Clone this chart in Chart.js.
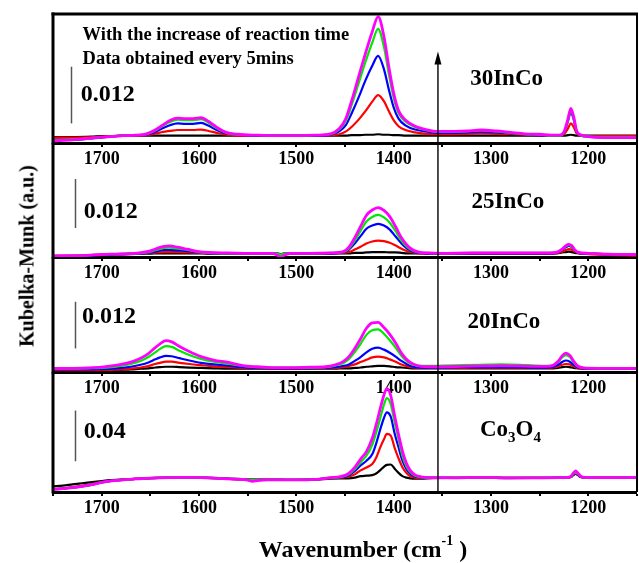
<!DOCTYPE html>
<html>
<head>
<meta charset="utf-8">
<script src="https://cdn.jsdelivr.net/npm/chart.js@4.4.1/dist/chart.umd.min.js"></script>
<style>
  html, body { margin: 0; padding: 0; background: #fff; }
  #wrap { position: relative; width: 639px; height: 563px; overflow: hidden; background: #fff; }
  #wrap canvas { position: absolute; left: 0; top: 0; }
  .axtitle { position: absolute; font-family: "Liberation Serif", "Times New Roman", serif; font-weight: bold; color: #000; white-space: nowrap; }
  #ytitle { left: 27px; top: 256px; font-size: 20px; transform: translate(-50%, -50%) rotate(-90deg); }
  #xtitle { left: 363px; top: 549px; font-size: 24px; transform: translate(-50%, -50%); }
  #xtitle sup { font-size: 14px; position: relative; top: -3px; vertical-align: top; }
</style>
</head>
<body>
<div id="wrap">
  <canvas id="p1" width="639" height="563"></canvas>
  <canvas id="p2" width="639" height="563"></canvas>
  <canvas id="p3" width="639" height="563"></canvas>
  <canvas id="p4" width="639" height="563"></canvas>
  <div id="ytitle" class="axtitle">Kubelka-Munk (a.u.)</div>
  <div id="xtitle" class="axtitle">Wavenumber (cm<sup>-1</sup> )</div>
</div>
<script>
const SERIF = '"Liberation Serif", "Times New Roman", serif';

// Spectra in units of 1e-3 Kubelka-Munk; five spectra per sample, taken every 5 min
// (black = first, then red, blue, green, magenta = last).

// ---- 30InCo ----
const wn30 = [1750, 1730, 1710, 1700, 1690, 1678, 1665, 1654, 1645, 1637,
  1630, 1622, 1614, 1606, 1598, 1590, 1582, 1572, 1560, 1540,
  1520, 1500, 1480, 1465, 1456, 1449, 1443, 1436, 1429, 1422,
  1416, 1410, 1405, 1400, 1395, 1388, 1378, 1367, 1354, 1340,
  1325, 1310, 1295, 1280, 1265, 1250, 1238, 1230, 1225, 1221,
  1218, 1215, 1212, 1208, 1200, 1185, 1170, 1150];
const km30Black = [-0.3, -0.3, -0.2, -0.1, -0.1, 0.0, 0.0, 0.0, 0.0, 0.0,
  0.0, 0.0, 0.0, 0.0, 0.0, 0.0, 0.0, 0.0, 0.0, 0.0,
  0.0, 0.0, 0.0, 0.0, 0.0, 0.0, 0.1, 0.1, 0.2, 0.2,
  0.3, 0.2, 0.2, 0.1, 0.1, 0.0, 0.0, 0.0, 0.0, 0.0,
  0.0, 0.0, 0.0, 0.0, 0.0, 0.0, 0.0, 0.0, 0.0, 0.1,
  0.2, 0.1, 0.0, 0.0, 0.0, 0.0, 0.0, 0.0];
const km30Red = [-0.4, -0.4, -0.3, -0.2, -0.1, 0.0, 0.0, 0.1, 0.4, 0.8,
  1.0, 1.2, 1.2, 1.2, 1.3, 1.0, 0.6, 0.2, 0.0, 0.0,
  0.0, 0.0, 0.0, 0.1, 0.3, 0.9, 1.9, 3.4, 5.2, 7.2,
  8.6, 7.3, 5.2, 3.3, 2.0, 1.2, 0.7, 0.4, 0.3, 0.3,
  0.4, 0.5, 0.4, 0.3, 0.2, 0.1, 0.0, 0.0, 0.3, 1.5,
  2.6, 1.8, 0.5, 0.0, -0.1, -0.1, -0.1, -0.1];
const km30Blue = [-0.9, -0.9, -0.6, -0.4, -0.2, 0.0, 0.1, 0.2, 0.8, 1.6,
  2.2, 2.6, 2.5, 2.5, 2.7, 2.1, 1.2, 0.5, 0.2, 0.0,
  0.0, 0.0, 0.0, 0.2, 0.9, 2.3, 4.8, 8.1, 11.7, 14.8,
  16.9, 14.1, 9.8, 6.0, 3.6, 2.2, 1.3, 0.9, 0.6, 0.6,
  0.7, 0.8, 0.7, 0.5, 0.3, 0.1, 0.0, 0.0, 0.6, 3.0,
  5.0, 3.4, 0.8, 0.1, -0.2, -0.3, -0.3, -0.3];
const km30Green = [-1.0, -0.8, -0.5, -0.3, -0.2, 0.0, 0.1, 0.3, 1.1, 2.1,
  2.9, 3.4, 3.3, 3.3, 3.5, 2.7, 1.6, 0.6, 0.2, 0.1,
  0.0, 0.0, 0.1, 0.3, 1.3, 3.2, 6.6, 11.1, 15.6, 19.7,
  22.6, 18.8, 13.1, 8.0, 4.8, 3.0, 1.8, 1.2, 0.8, 0.8,
  0.9, 1.1, 0.9, 0.6, 0.3, 0.2, 0.0, 0.0, 0.7, 3.2,
  5.4, 3.7, 0.9, 0.1, -0.2, -0.3, -0.3, -0.3];
const km30Magenta = [-1.1, -0.9, -0.5, -0.3, -0.2, 0.0, 0.1, 0.4, 1.2, 2.3,
  3.2, 3.7, 3.6, 3.6, 3.8, 3.0, 1.8, 0.7, 0.3, 0.1,
  0.0, 0.0, 0.1, 0.4, 1.5, 3.7, 7.5, 12.5, 17.4, 22.0,
  25.2, 21.0, 14.6, 9.0, 5.3, 3.3, 2.0, 1.3, 0.9, 0.9,
  1.0, 1.2, 1.0, 0.7, 0.4, 0.3, 0.1, 0.1, 0.8, 3.5,
  5.8, 4.0, 1.0, 0.2, -0.2, -0.4, -0.4, -0.4];

// ---- 25InCo ----
const wn25 = [1750, 1730, 1715, 1700, 1685, 1670, 1658, 1650, 1643, 1636,
  1630, 1622, 1612, 1600, 1590, 1570, 1545, 1525, 1520, 1516,
  1512, 1505, 1485, 1465, 1452, 1446, 1440, 1434, 1428, 1422,
  1416, 1410, 1404, 1398, 1392, 1386, 1380, 1374, 1365, 1350,
  1320, 1290, 1260, 1240, 1232, 1227, 1223, 1220, 1217, 1214,
  1210, 1200, 1180, 1150];
const km25Black = [-0.6, -0.6, -0.5, -0.4, -0.3, -0.2, -0.1, -0.1, 0.0, 0.0,
  0.0, 0.0, 0.0, 0.0, -0.1, -0.1, -0.1, -0.1, -0.1, -0.2,
  -0.1, -0.1, -0.1, -0.1, 0.0, 0.0, 0.1, 0.1, 0.2, 0.3,
  0.3, 0.3, 0.2, 0.2, 0.1, 0.0, 0.0, 0.0, -0.1, -0.1,
  -0.1, -0.1, -0.1, -0.1, 0.0, 0.2, 0.3, 0.4, 0.3, 0.1,
  0.0, -0.1, -0.2, -0.3];
const km25Red = [-0.6, -0.6, -0.5, -0.3, -0.2, -0.1, 0.0, 0.1, 0.2, 0.3,
  0.3, 0.3, 0.2, 0.1, 0.0, 0.0, -0.1, -0.1, -0.1, -0.2,
  -0.1, -0.1, -0.1, 0.0, 0.1, 0.3, 0.9, 1.6, 2.4, 2.9,
  3.1, 3.0, 2.6, 1.9, 1.1, 0.5, 0.2, 0.0, 0.0, -0.1,
  -0.1, -0.1, -0.1, -0.1, 0.1, 0.4, 0.8, 1.0, 0.9, 0.4,
  0.0, -0.2, -0.4, -0.6];
const km25Blue = [-0.8, -0.7, -0.6, -0.4, -0.3, -0.1, 0.0, 0.2, 0.5, 0.8,
  0.8, 0.7, 0.5, 0.2, 0.0, 0.0, 0.0, 0.0, -0.1, -0.2,
  -0.1, 0.0, 0.0, 0.0, 0.2, 0.9, 2.4, 4.2, 6.0, 6.8,
  7.2, 6.8, 5.8, 4.1, 2.4, 1.1, 0.4, 0.1, 0.0, 0.0,
  0.0, 0.0, 0.0, 0.0, 0.2, 0.8, 1.5, 1.8, 1.5, 0.7,
  0.1, -0.1, -0.2, -0.3];
const km25Green = [-0.7, -0.6, -0.5, -0.3, -0.2, -0.1, 0.1, 0.4, 0.9, 1.3,
  1.4, 1.2, 0.8, 0.3, 0.1, 0.0, 0.0, 0.0, -0.1, -0.3,
  -0.1, 0.0, 0.0, 0.1, 0.3, 1.2, 3.1, 5.5, 7.8, 8.9,
  9.4, 8.8, 7.5, 5.4, 3.1, 1.5, 0.6, 0.2, 0.1, 0.0,
  0.1, 0.1, 0.1, 0.1, 0.3, 0.9, 1.7, 2.0, 1.7, 0.8,
  0.2, 0.0, -0.2, -0.3];
const km25Magenta = [-0.7, -0.6, -0.5, -0.3, -0.2, -0.1, 0.2, 0.6, 1.2, 1.7,
  1.8, 1.5, 1.0, 0.4, 0.2, 0.1, 0.0, 0.0, -0.4, -1.0,
  -0.4, 0.0, 0.0, 0.1, 0.4, 1.5, 3.8, 6.6, 9.3, 10.6,
  11.2, 10.5, 9.0, 6.5, 3.8, 1.9, 0.8, 0.3, 0.1, 0.0,
  0.1, 0.1, 0.1, 0.1, 0.3, 1.0, 1.9, 2.2, 1.9, 0.9,
  0.2, 0.0, -0.2, -0.3];

// ---- 20InCo ----
const wn20 = [1750, 1730, 1715, 1700, 1690, 1680, 1670, 1660, 1652, 1645,
  1640, 1634, 1628, 1620, 1610, 1598, 1585, 1570, 1555, 1540,
  1525, 1505, 1485, 1470, 1460, 1452, 1446, 1440, 1434, 1428,
  1422, 1416, 1410, 1404, 1398, 1392, 1386, 1380, 1372, 1362,
  1350, 1330, 1310, 1290, 1270, 1255, 1243, 1236, 1231, 1227,
  1223, 1219, 1215, 1211, 1205, 1190, 1170, 1150];
const km20Black = [-0.6, -0.6, -0.6, -0.6, -0.5, -0.4, -0.3, -0.1, 0.0, 0.2,
  0.3, 0.4, 0.4, 0.3, 0.2, 0.1, 0.0, -0.1, -0.1, -0.1,
  -0.1, -0.1, -0.1, -0.1, -0.1, 0.0, 0.0, 0.1, 0.2, 0.4,
  0.5, 0.6, 0.6, 0.5, 0.3, 0.2, 0.1, 0.0, 0.0, 0.0,
  0.0, 0.0, 0.0, 0.0, 0.0, 0.0, 0.0, 0.0, 0.1, 0.3,
  0.4, 0.3, 0.1, 0.0, -0.1, -0.1, -0.1, -0.1];
const km20Red = [-0.5, -0.5, -0.5, -0.5, -0.4, -0.3, -0.1, 0.2, 0.6, 1.1,
  1.4, 1.7, 1.7, 1.4, 1.1, 0.8, 0.5, 0.3, 0.1, 0.0,
  -0.1, -0.1, -0.1, 0.0, 0.1, 0.3, 0.6, 1.0, 1.6, 2.2,
  2.8, 3.0, 2.8, 2.3, 1.7, 1.0, 0.5, 0.2, 0.1, 0.1,
  0.1, 0.1, 0.2, 0.2, 0.2, 0.1, 0.1, 0.2, 0.5, 0.9,
  1.1, 1.0, 0.5, 0.1, -0.1, -0.1, -0.1, -0.1];
const km20Blue = [-0.3, -0.3, -0.3, -0.2, -0.1, 0.1, 0.4, 0.9, 1.5, 2.3,
  2.8, 3.2, 3.1, 2.6, 2.0, 1.4, 1.0, 0.7, 0.3, 0.1,
  0.0, 0.0, 0.0, 0.1, 0.3, 0.6, 1.0, 1.9, 2.9, 4.1,
  5.0, 5.3, 4.8, 4.0, 3.0, 1.9, 1.0, 0.4, 0.2, 0.2,
  0.2, 0.3, 0.3, 0.3, 0.3, 0.2, 0.2, 0.4, 0.9, 1.6,
  2.0, 1.7, 0.9, 0.3, 0.0, -0.1, -0.1, -0.1];
const km20Green = [-0.1, -0.1, 0.0, 0.1, 0.3, 0.6, 1.1, 1.9, 2.9, 4.1,
  5.0, 5.7, 5.5, 4.5, 3.4, 2.4, 1.7, 1.2, 0.6, 0.3,
  0.2, 0.2, 0.2, 0.3, 0.7, 1.3, 2.4, 4.2, 6.3, 8.6,
  9.8, 10.0, 8.9, 7.2, 5.3, 3.2, 1.7, 0.9, 0.6, 0.6,
  0.7, 0.8, 0.9, 1.0, 0.9, 0.7, 0.6, 0.8, 1.6, 2.8,
  3.4, 2.9, 1.5, 0.5, 0.1, 0.0, 0.0, 0.0];
const km20Magenta = [0.0, 0.0, 0.1, 0.3, 0.6, 1.0, 1.6, 2.6, 3.8, 5.3,
  6.3, 7.1, 6.8, 5.6, 4.3, 3.0, 2.1, 1.5, 0.7, 0.4,
  0.2, 0.2, 0.3, 0.4, 0.9, 1.7, 3.0, 5.1, 7.6, 10.3,
  11.7, 11.8, 10.5, 8.7, 6.5, 3.9, 2.1, 1.1, 0.5, 0.4,
  0.4, 0.5, 0.6, 0.7, 0.6, 0.5, 0.5, 0.8, 1.8, 3.2,
  3.9, 3.3, 1.8, 0.6, 0.1, 0.0, 0.0, 0.0];

// ---- Co3O4 ----
const wnCo = [1750, 1740, 1730, 1720, 1710, 1700, 1690, 1678, 1665, 1650,
  1630, 1610, 1598, 1580, 1560, 1550, 1545, 1540, 1530, 1515,
  1500, 1480, 1465, 1455, 1447, 1440, 1434, 1428, 1422, 1418,
  1414, 1410, 1407, 1403, 1399, 1395, 1391, 1387, 1383, 1378,
  1372, 1360, 1340, 1310, 1280, 1250, 1230, 1222, 1218, 1215,
  1213, 1211, 1208, 1203, 1190, 1170, 1150];
const kmCoBlack = [-6.3, -5.8, -4.8, -3.9, -3.0, -2.2, -1.5, -0.9, -0.4, 0.2,
  0.6, 0.7, 0.6, 0.2, -0.5, -0.8, -1.0, -1.0, -1.0, -1.1,
  -1.2, -0.9, -0.3, -0.1, 0.0, 0.6, 1.7, 2.1, 2.5, 3.8,
  6.3, 9.1, 10.6, 10.9, 7.6, 4.3, 1.7, 0.5, 0.0, -0.2,
  -0.2, 0.2, 0.3, 0.5, 0.2, 0.3, 0.4, 0.5, 1.0, 2.8,
  3.4, 2.7, 1.0, 0.5, 0.4, 0.5, 0.6];
const kmCoRed = [-8.4, -8.0, -7.0, -5.8, -4.5, -3.0, -1.9, -1.1, -0.5, 0.2,
  0.6, 0.7, 0.6, 0.0, -0.8, -1.0, -1.2, -1.2, -1.2, -1.2,
  -1.3, -0.8, 0.2, 0.5, 1.2, 3.1, 6.3, 8.6, 11.3, 16.3,
  24.0, 30.8, 35.0, 33.7, 24.0, 15.8, 8.8, 4.4, 1.7, 0.6,
  0.3, 0.4, 0.4, 0.7, 0.3, 0.4, 0.5, 0.6, 1.1, 3.0,
  3.6, 2.9, 1.1, 0.6, 0.5, 0.6, 0.7];
const kmCoBlue = [-8.6, -8.2, -7.4, -6.3, -5.0, -3.2, -2.0, -1.2, -0.5, 0.2,
  0.6, 0.7, 0.6, 0.0, -0.8, -1.0, -1.2, -1.2, -1.2, -1.2,
  -1.3, -0.8, 0.3, 0.8, 2.1, 5.6, 10.1, 13.9, 18.9, 27.4,
  38.0, 47.6, 52.0, 48.6, 35.4, 24.5, 13.9, 7.5, 3.7, 1.5,
  0.8, 0.5, 0.4, 0.7, 0.3, 0.4, 0.5, 0.6, 1.2, 3.3,
  4.0, 3.2, 1.2, 0.6, 0.5, 0.6, 0.7];
const kmCoGreen = [-8.6, -8.2, -7.4, -6.3, -5.0, -3.2, -2.0, -1.2, -0.5, 0.2,
  0.6, 0.7, 0.6, 0.0, -0.8, -1.0, -1.2, -1.2, -1.2, -1.2,
  -1.3, -0.8, 0.4, 1.0, 2.7, 7.2, 12.7, 17.8, 26.5, 36.0,
  46.8, 58.1, 63.3, 58.6, 44.2, 30.8, 17.7, 9.6, 5.0, 2.1,
  1.0, 0.5, 0.4, 0.8, 0.3, 0.4, 0.5, 0.6, 1.3, 3.8,
  4.5, 3.6, 1.4, 0.6, 0.5, 0.6, 0.7];
const kmCoMagenta = [-8.6, -8.2, -7.4, -6.3, -5.0, -3.2, -2.0, -1.2, -0.5, 0.2,
  0.6, 0.7, 0.6, 0.0, -0.8, -1.5, -2.4, -1.8, -1.2, -1.2,
  -1.3, -0.8, 0.5, 1.3, 3.4, 8.6, 15.2, 21.1, 31.6, 42.3,
  54.4, 65.8, 70.8, 65.3, 49.3, 34.6, 21.5, 12.0, 6.3, 2.7,
  1.2, 0.5, 0.4, 0.8, 0.3, 0.4, 0.5, 0.7, 1.6, 4.5,
  5.8, 4.5, 1.8, 0.7, 0.5, 0.6, 0.7];

// Scale-bar values (Kubelka-Munk units) and x-axis tick step
const scaleBarValues = [0.012, 0.012, 0.012, 0.04];
const sampleNames = ['30InCo', '25InCo', '20InCo', 'Co3O4'];
const noteLines = ['With the increase of reaction time', 'Data obtained every 5mins'];
const tickStep = 50;
const arrowWavenumber = 1354.5;

const lineColors = ['#000000', '#ff0000', '#0000ff', '#00e800', '#ff00ff'];
const lineWidths = [2.2, 2.2, 2.2, 2.2, 2.8];

// Panel layout and annotation placement
const panels = [
  { id: 'p1', wn: wn30, series: [km30Black, km30Red, km30Blue, km30Green, km30Magenta],
    top: 14, bottom: 143, yMin: -1.55, yMax: 25.76, topBorder: true,
    barX: 1731.6, barFrom: 2.6, textX: 1721.6, textY: 8.6,
    nameX: 1284, nameY: 12.0, arrowTop: 17.8, notes: { x: 1719.6, y: [21.3, 16.2] } },
  { id: 'p2', wn: wn25, series: [km25Black, km25Red, km25Blue, km25Green, km25Magenta],
    top: 143, bottom: 257, yMin: -0.91, yMax: 27.03,
    barX: 1726.9, barFrom: 6.2, textX: 1718.3, textY: 10.1,
    nameX: 1282.6, nameY: 12.6 },
  { id: 'p3', wn: wn20, series: [km20Black, km20Red, km20Blue, km20Green, km20Magenta],
    top: 257, bottom: 372, yMin: -0.95, yMax: 28.61,
    barX: 1726.9, barFrom: 5.1, textX: 1720.3, textY: 13.3,
    nameX: 1286.7, nameY: 12.0 },
  { id: 'p4', wn: wnCo, series: [kmCoBlack, kmCoRed, kmCoBlue, kmCoGreen, kmCoMagenta],
    top: 372, bottom: 492, yMin: -10.8, yMax: 83.9,
    barX: 1726.9, barFrom: 13.5, textX: 1718.3, textY: 36.5,
    nameX: 1280, nameY: 39.5, chemical: true }
];

const AXIS_H = 30;
const CANVAS_H = 563;

// Draws the frame, the time arrow, the scale bar and the sample label of a panel
const panelDecor = {
  id: 'panelDecor',
  afterDatasetsDraw(chart, args, o) {
    const { ctx, chartArea: a, scales: { x, y } } = chart;
    ctx.save();
    ctx.strokeStyle = '#000';
    // frame
    ctx.lineWidth = 3;
    ctx.beginPath();
    ctx.moveTo(a.left, o.topBorder ? a.top - 1.5 : a.top);
    ctx.lineTo(a.left, a.bottom + 1.5);
    ctx.stroke();
    if (o.topBorder) {
      ctx.beginPath();
      ctx.moveTo(a.left - 1.5, a.top);
      ctx.lineTo(a.right + 1, a.top);
      ctx.stroke();
    }
    ctx.lineWidth = 2;
    ctx.beginPath();
    ctx.moveTo(a.right, a.top);
    ctx.lineTo(a.right, a.bottom);
    ctx.stroke();

    // time arrow
    const ax = x.getPixelForValue(arrowWavenumber);
    ctx.lineWidth = 1.4;
    ctx.fillStyle = '#000';
    if (o.arrowTop !== undefined) {
      const ty = y.getPixelForValue(o.arrowTop);
      ctx.beginPath();
      ctx.moveTo(ax, ty + 8);
      ctx.lineTo(ax, a.bottom);
      ctx.stroke();
      ctx.beginPath();
      ctx.moveTo(ax, ty);
      ctx.lineTo(ax - 3.5, ty + 13);
      ctx.lineTo(ax + 3.5, ty + 13);
      ctx.closePath();
      ctx.fill();
    } else {
      ctx.beginPath();
      ctx.moveTo(ax, a.top);
      ctx.lineTo(ax, a.bottom);
      ctx.stroke();
    }

    // scale bar, its length is the bar value
    const bx = Math.round(x.getPixelForValue(o.barX)) + 0.5;
    ctx.strokeStyle = '#555';
    ctx.lineWidth = 1.5;
    ctx.beginPath();
    ctx.moveTo(bx, y.getPixelForValue(o.barFrom));
    ctx.lineTo(bx, y.getPixelForValue(o.barFrom + o.barValue * 1000));
    ctx.stroke();
    ctx.fillStyle = '#000';
    ctx.font = 'bold 24px ' + SERIF;
    ctx.textAlign = 'left';
    ctx.textBaseline = 'middle';
    ctx.fillText(String(o.barValue), x.getPixelForValue(o.textX), y.getPixelForValue(o.textY));

    // sample label
    const nx = x.getPixelForValue(o.nameX);
    const ny = y.getPixelForValue(o.nameY);
    if (o.chemical) {
      const big = 'bold 23px ' + SERIF, small = 'bold 15px ' + SERIF;
      const parts = [['Co', big, 0], ['3', small, 6], ['O', big, 0], ['4', small, 6]];
      let total = 0;
      parts.forEach(p => { ctx.font = p[1]; total += ctx.measureText(p[0]).width; });
      let cx = nx - total / 2;
      ctx.textBaseline = 'alphabetic';
      parts.forEach(p => {
        ctx.font = p[1];
        ctx.fillText(p[0], cx, ny + 8 + p[2]);
        cx += ctx.measureText(p[0]).width;
      });
    } else {
      ctx.font = 'bold 23px ' + SERIF;
      ctx.textAlign = 'center';
      ctx.textBaseline = 'middle';
      ctx.fillText(o.name, nx, ny);
    }

    // notes
    if (o.notes) {
      ctx.font = 'bold 18.5px ' + SERIF;
      ctx.textAlign = 'left';
      ctx.textBaseline = 'middle';
      o.notes.lines.forEach((t, i) => {
        ctx.fillText(t, x.getPixelForValue(o.notes.x), y.getPixelForValue(o.notes.y[i]));
      });
    }
    ctx.restore();
  }
};

panels.forEach((p, k) => {
  const datasets = p.series.map((vals, i) => ({
    data: p.wn.map((w, j) => ({ x: w, y: vals[j] })),
    borderColor: lineColors[i],
    borderWidth: lineWidths[i],
    pointRadius: 0,
    fill: false,
    cubicInterpolationMode: 'monotone',
    order: 5 - i
  }));
  new Chart(document.getElementById(p.id), {
    type: 'line',
    data: { datasets },
    plugins: [panelDecor],
    options: {
      responsive: false,
      devicePixelRatio: 1,
      animation: false,
      events: [],
      layout: { padding: { left: 53, right: 1, top: p.top, bottom: CANVAS_H - p.bottom - AXIS_H } },
      plugins: {
        legend: { display: false },
        tooltip: { enabled: false },
        panelDecor: {
          topBorder: !!p.topBorder,
          barX: p.barX, barFrom: p.barFrom, barValue: scaleBarValues[k],
          textX: p.textX, textY: p.textY,
          name: sampleNames[k], nameX: p.nameX, nameY: p.nameY, chemical: !!p.chemical,
          arrowTop: p.arrowTop,
          notes: p.notes ? { lines: noteLines, x: p.notes.x, y: p.notes.y } : null
        }
      },
      scales: {
        x: {
          type: 'linear',
          reverse: true,
          min: 1150,
          max: 1750,
          afterFit: (s) => { s.height = AXIS_H; },
          border: { display: true, color: '#000', width: 3 },
          grid: { display: true, drawOnChartArea: false, drawTicks: true, tickLength: 4, tickWidth: 2, tickColor: '#000', lineWidth: 0 },
          ticks: {
            stepSize: tickStep,
            autoSkip: false,
            maxRotation: 0,
            padding: 2,
            color: '#000',
            font: { family: SERIF, weight: 'bold', size: 18 },
            callback: (v) => (v % 100 === 0 ? String(v) : '')
          }
        },
        y: { display: false, min: p.yMin, max: p.yMax }
      }
    }
  });
});
</script>
</body>
</html>
